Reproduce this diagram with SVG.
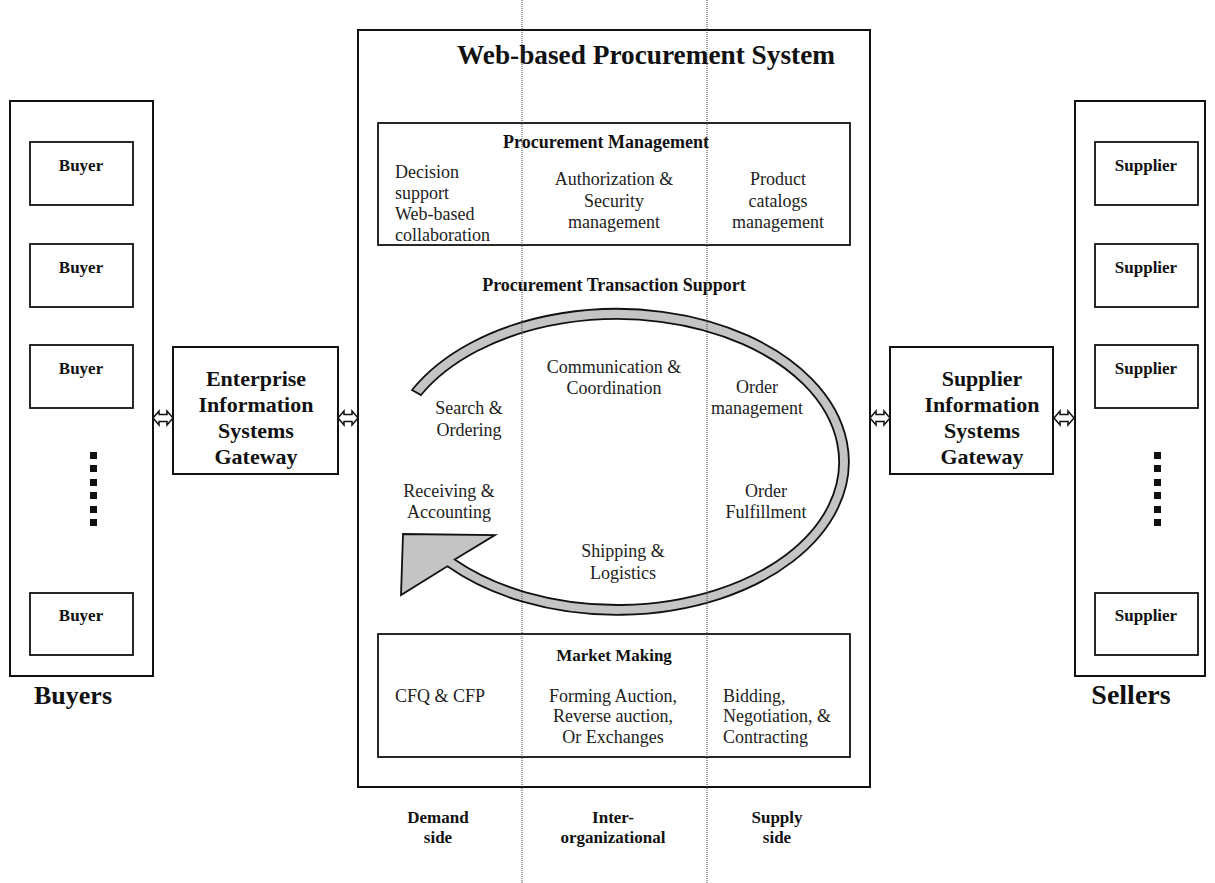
<svg xmlns="http://www.w3.org/2000/svg" width="1215" height="883" viewBox="0 0 1215 883">
  <style>
    .box { fill: #fff; stroke: #111; stroke-width: 2; }
    .ibox { fill: #fff; stroke: #111; stroke-width: 1.8; }
    .b { font-family: "Liberation Serif", "Times New Roman", serif; font-weight: bold; fill: #111; }
    .r { font-family: "Liberation Serif", "Times New Roman", serif; fill: #222; font-size: 18px; }
    .c { text-anchor: middle; }
    .dot { fill: #111; }
    .dbl { fill: #fff; stroke: #111; stroke-width: 1.5; stroke-linejoin: miter; }
    .sep { stroke: #444; stroke-width: 1; stroke-dasharray: 1 1; fill: none; }
  </style>
  <defs>
    <!-- hollow two-way arrow, centred on the origin -->
    <path id="twoway" class="dbl" d="M-10,0 L-4,-7 L-4,-3.5 L4,-3.5 L4,-7 L10,0 L4,7 L4,3.5 L-4,3.5 L-4,7 Z"/>
  </defs>

  <rect width="1215" height="883" fill="#fff"/>

  <!-- buyers column -->
  <g id="buyers">
    <rect class="box" x="10" y="101" width="143" height="575"/>
    <g id="buyer1"><rect class="ibox" x="30" y="142" width="103" height="63"/><text class="b c" x="81" y="171" font-size="17">Buyer</text></g>
    <g id="buyer2"><rect class="ibox" x="30" y="244" width="103" height="63"/><text class="b c" x="81" y="273" font-size="17">Buyer</text></g>
    <g id="buyer3"><rect class="ibox" x="30" y="345" width="103" height="63"/><text class="b c" x="81" y="374" font-size="17">Buyer</text></g>
    <g id="buyer-dots">
      <rect class="dot" x="90" y="452" width="7" height="7"/>
      <rect class="dot" x="90" y="465" width="7" height="7"/>
      <rect class="dot" x="90" y="479" width="7" height="7"/>
      <rect class="dot" x="90" y="492" width="7" height="7"/>
      <rect class="dot" x="90" y="506" width="7" height="7"/>
      <rect class="dot" x="90" y="519" width="7" height="7"/>
    </g>
    <g id="buyer4"><rect class="ibox" x="30" y="593" width="103" height="62"/><text class="b c" x="81" y="621" font-size="17">Buyer</text></g>
    <text class="b c" x="73" y="704" font-size="26">Buyers</text>
  </g>

  <!-- enterprise gateway -->
  <g id="enterprise-gateway">
    <rect class="box" x="173" y="347" width="165" height="127"/>
    <text class="b c" x="256" y="386" font-size="22">Enterprise</text>
    <text class="b c" x="256" y="412" font-size="22">Information</text>
    <text class="b c" x="256" y="438" font-size="22">Systems</text>
    <text class="b c" x="256" y="464" font-size="22">Gateway</text>
  </g>

  <!-- central system -->
  <g id="procurement-system">
    <rect class="box" x="358" y="30" width="512" height="757"/>
    <text class="b" x="457" y="64" font-size="27" textLength="378" lengthAdjust="spacingAndGlyphs">Web-based Procurement System</text>
  </g>

  <g id="procurement-management">
    <rect class="ibox" x="378" y="123" width="472" height="122"/>
    <text class="b c" x="606" y="148" font-size="18">Procurement Management</text>
    <text class="r" x="395" y="178">Decision</text>
    <text class="r" x="395" y="199">support</text>
    <text class="r" x="395" y="220">Web-based</text>
    <text class="r" x="395" y="241">collaboration</text>
    <text class="r c" x="614" y="185">Authorization &amp;</text>
    <text class="r c" x="614" y="207">Security</text>
    <text class="r c" x="614" y="228">management</text>
    <text class="r c" x="778" y="185">Product</text>
    <text class="r c" x="778" y="207">catalogs</text>
    <text class="r c" x="778" y="228">management</text>
  </g>

  <g id="transaction-support">
    <text class="b c" x="614" y="291" font-size="18">Procurement Transaction Support</text>
    <!-- circular flow band ending in a block arrowhead -->
    <path fill="#c4c4c4" stroke="#111" stroke-width="1.8" stroke-linejoin="miter"
          d="M412,390 A232,153 0 1 1 447.4,566.3 L401,595 L403,534 L495,535 L454.7,559.5 A222,143 0 1 0 421,395 Z"/>
    <text class="r c" x="614" y="373">Communication &amp;</text>
    <text class="r c" x="614" y="394">Coordination</text>
    <text class="r c" x="469" y="414">Search &amp;</text>
    <text class="r c" x="469" y="436">Ordering</text>
    <text class="r c" x="757" y="393">Order</text>
    <text class="r c" x="757" y="414">management</text>
    <text class="r c" x="449" y="497">Receiving &amp;</text>
    <text class="r c" x="449" y="518">Accounting</text>
    <text class="r c" x="766" y="497">Order</text>
    <text class="r c" x="766" y="518">Fulfillment</text>
    <text class="r c" x="623" y="557">Shipping &amp;</text>
    <text class="r c" x="623" y="579">Logistics</text>
  </g>

  <g id="market-making">
    <rect class="ibox" x="378" y="634" width="472" height="123"/>
    <text class="b c" x="614" y="661" font-size="17">Market Making</text>
    <text class="r" x="395" y="702">CFQ &amp; CFP</text>
    <text class="r c" x="613" y="702">Forming Auction,</text>
    <text class="r c" x="613" y="722">Reverse auction,</text>
    <text class="r c" x="613" y="743">Or Exchanges</text>
    <text class="r" x="723" y="702">Bidding,</text>
    <text class="r" x="723" y="722">Negotiation, &amp;</text>
    <text class="r" x="723" y="743">Contracting</text>
  </g>

  <g id="side-labels">
    <text class="b c" x="438" y="823" font-size="17">Demand</text>
    <text class="b c" x="438" y="843" font-size="17">side</text>
    <text class="b c" x="613" y="823" font-size="17">Inter-</text>
    <text class="b c" x="613" y="843" font-size="17">organizational</text>
    <text class="b c" x="777" y="823" font-size="17">Supply</text>
    <text class="b c" x="777" y="843" font-size="17">side</text>
  </g>

  <!-- supplier gateway -->
  <g id="supplier-gateway">
    <rect class="box" x="890" y="347" width="163" height="127"/>
    <text class="b c" x="982" y="386" font-size="22">Supplier</text>
    <text class="b c" x="982" y="412" font-size="22">Information</text>
    <text class="b c" x="982" y="438" font-size="22">Systems</text>
    <text class="b c" x="982" y="464" font-size="22">Gateway</text>
  </g>

  <!-- suppliers column -->
  <g id="suppliers">
    <rect class="box" x="1075" y="101" width="130" height="575"/>
    <g id="supplier1"><rect class="ibox" x="1095" y="142" width="103" height="63"/><text class="b c" x="1146" y="171" font-size="17">Supplier</text></g>
    <g id="supplier2"><rect class="ibox" x="1095" y="244" width="103" height="63"/><text class="b c" x="1146" y="273" font-size="17">Supplier</text></g>
    <g id="supplier3"><rect class="ibox" x="1095" y="345" width="103" height="63"/><text class="b c" x="1146" y="374" font-size="17">Supplier</text></g>
    <g id="supplier-dots">
      <rect class="dot" x="1154" y="452" width="7" height="7"/>
      <rect class="dot" x="1154" y="465" width="7" height="7"/>
      <rect class="dot" x="1154" y="479" width="7" height="7"/>
      <rect class="dot" x="1154" y="492" width="7" height="7"/>
      <rect class="dot" x="1154" y="506" width="7" height="7"/>
      <rect class="dot" x="1154" y="519" width="7" height="7"/>
    </g>
    <g id="supplier4"><rect class="ibox" x="1095" y="593" width="103" height="62"/><text class="b c" x="1146" y="621" font-size="17">Supplier</text></g>
    <text class="b c" x="1131" y="704" font-size="28">Sellers</text>
  </g>

  <!-- two-way links between columns, gateways and the system -->
  <g id="connectors">
    <use href="#twoway" x="163" y="418"/>
    <use href="#twoway" x="348" y="418"/>
    <use href="#twoway" x="880" y="418"/>
    <use href="#twoway" x="1064" y="418"/>
  </g>

  <!-- column separators: demand / inter-organizational / supply -->
  <g id="separators">
    <line class="sep" x1="522" y1="0" x2="522" y2="883"/>
    <line class="sep" x1="707" y1="0" x2="707" y2="883"/>
  </g>
</svg>
